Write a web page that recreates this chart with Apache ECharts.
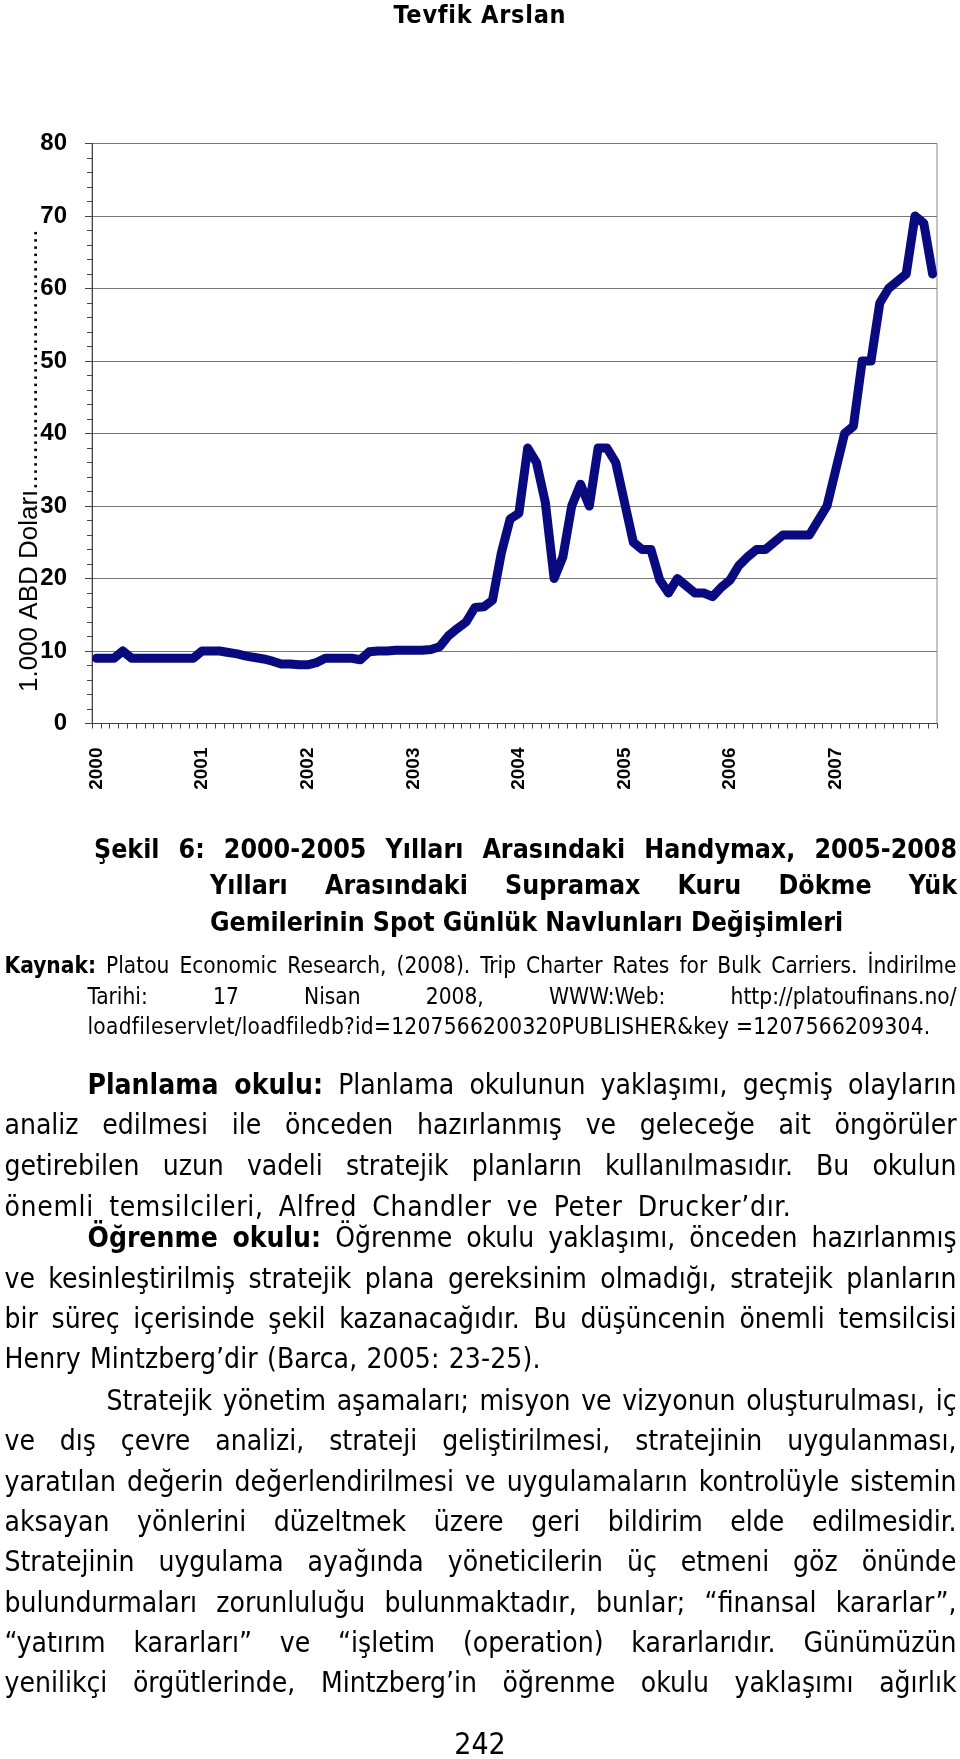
<!DOCTYPE html>
<html>
<head>
<meta charset="utf-8">
<script src="https://cdn.jsdelivr.net/npm/echarts@6/dist/echarts.min.js"></script>
<style>
html,body{margin:0;padding:0;background:#fff;width:960px;height:1759px;overflow:hidden}
#chart{position:absolute;left:0;top:0;width:960px;height:1759px}
.t{position:absolute;font-family:"DejaVu Sans Condensed","DejaVu Sans",sans-serif;color:#000;white-space:nowrap;z-index:2}
.t span{display:inline-block;white-space:nowrap}
</style>
</head>
<body>
<div id="chart"></div>
<div id="text"></div>
<script>
// ---- data ----
const years = ['2000', '2001', '2002', '2003', '2004', '2005', '2006', '2007'];
const monthCodes = ['01', '02', '03', '04', '05', '06', '07', '08', '09', '10', '11', '12'];
const categories = [];
years.forEach(function (y) { monthCodes.forEach(function (m) { categories.push(y + '-' + m); }); });
// spot daily charter rates, thousand USD (monthly)
const rates = [
  9, 9, 9, 10, 9, 9, 9, 9, 9, 9, 9, 9,                       // 2000
  10, 10, 10, 9.8, 9.6, 9.3, 9.1, 8.9, 8.6, 8.2, 8.2, 8.1,   // 2001
  8.1, 8.4, 9, 9, 9, 9, 8.8, 9.9, 10, 10, 10.1, 10.1,        // 2002
  10.1, 10.1, 10.2, 10.6, 12.1, 13.1, 14, 16, 16.1, 17, 23.5, 28.2, // 2003
  29, 38, 36, 30.5, 20, 23, 30, 33, 30, 38, 38, 36,          // 2004
  30.5, 25, 24, 24, 19.8, 18, 20, 19, 18, 18, 17.5, 18.8,    // 2005
  19.8, 21.8, 23, 24, 24, 25, 26, 26, 26, 26, 28, 30,        // 2006
  35, 40, 41, 50, 50, 58, 60, 61, 62, 70, 69, 62             // 2007
];
const yTicks = [0, 10, 20, 30, 40, 50, 60, 70, 80];
const yAxisName = '1.000 ABD Doları' + '....................................';

// ---- chart ----
const chart = echarts.init(document.getElementById('chart'), null, {renderer: 'canvas'});
chart.setOption({
  animation: false,
  grid: {left: 92, top: 143.5, width: 845, height: 580, show: true, borderColor: '#888', borderWidth: 1, backgroundColor: 'transparent'},
  xAxis: {
    type: 'category',
    data: categories,
    boundaryGap: true,
    axisLine: {show: true, lineStyle: {color: '#444', width: 1}},
    axisTick: {show: true, interval: 0, length: 5, lineStyle: {color: '#444'}},
    axisLabel: {
      interval: 11, rotate: 90, margin: 24,
      formatter: function (v) { return v.slice(0, 4); },
      fontFamily: '"Liberation Sans", Arial, sans-serif', fontWeight: 'bold', fontSize: 19, color: '#000'
    },
    splitLine: {show: false}
  },
  yAxis: {
    type: 'value',
    min: yTicks[0], max: yTicks[yTicks.length - 1], interval: 10,
    axisLine: {show: true, lineStyle: {color: '#444', width: 1}},
    axisTick: {show: true, length: 7, lineStyle: {color: '#444'}},
    minorTick: {show: true, splitNumber: 5, length: 5, lineStyle: {color: '#444'}},
    axisLabel: {margin: 25, fontFamily: '"Liberation Sans", Arial, sans-serif', fontWeight: 'bold', fontSize: 24, color: '#000'},
    splitLine: {show: true, lineStyle: {color: '#777', width: 1}}
  },
  graphic: [{
    type: 'text', x: 30, y: 692, rotation: Math.PI / 2, z: 10,
    style: {text: yAxisName, font: '26px "Liberation Sans", Arial, sans-serif', fill: '#000',
            align: 'left', verticalAlign: 'middle', textAlign: 'left', textVerticalAlign: 'middle'}
  }],
  series: [{
    type: 'line', data: rates, showSymbol: false, silent: true,
    lineStyle: {color: '#0a0a80', width: 9, cap: 'round', join: 'round'}
  }]
});

// ---- page text ----
// [html, left, targetWidth, centerY, fontSize, mode]  mode: j = justify, l = last line, c = centered
const lines = [
  ['<b>Tevfik Arslan</b>', 0, 172, 15, 25, 'c'],
  ['<b>Şekil 6: 2000-2005 Yılları Arasındaki Handymax, 2005-2008</b>', 94, 863, 849, 26.5, 'j'],
  ['<b>Yılları Arasındaki Supramax Kuru Dökme Yük</b>', 210, 747, 885, 26.5, 'j'],
  ['<b>Gemilerinin Spot Günlük Navlunları Değişimleri</b>', 210, 633, 922, 26.5, 'l'],
  ['<b>Kaynak:</b> Platou Economic Research, (2008). Trip Charter Rates for Bulk Carriers. İndirilme', 4.5, 952, 964.5, 22.5, 'j'],
  ['Tarihi: 17 Nisan 2008, WWW:Web: http://platoufinans.no/', 87.5, 869, 996, 22.5, 'j'],
  ['loadfileservlet/loadfiledb?id=1207566200320PUBLISHER&amp;key =1207566209304.', 87.5, 843, 1026, 22.5, 'l'],
  ['<b>Planlama okulu:</b> Planlama okulunun yaklaşımı, geçmiş olayların', 87.5, 869, 1084.5, 28, 'j'],
  ['analiz edilmesi ile önceden hazırlanmış ve geleceğe ait öngörüler', 4.5, 952, 1125, 28, 'j'],
  ['getirebilen uzun vadeli stratejik planların kullanılmasıdır. Bu okulun', 4.5, 952, 1166, 28, 'j'],
  ['önemli temsilcileri, Alfred Chandler ve Peter Drucker’dır.', 4.5, 787, 1207, 28, 'l'],
  ['<b>Öğrenme okulu:</b> Öğrenme okulu yaklaşımı, önceden hazırlanmış', 87.5, 869, 1238, 28, 'j'],
  ['ve kesinleştirilmiş stratejik plana gereksinim olmadığı, stratejik planların', 4.5, 952, 1278.5, 28, 'j'],
  ['bir süreç içerisinde şekil kazanacağıdır. Bu düşüncenin önemli temsilcisi', 4.5, 952, 1319, 28, 'j'],
  ['Henry Mintzberg’dir (Barca, 2005: 23-25).', 4.5, 536, 1359, 28, 'l'],
  ['Stratejik yönetim aşamaları; misyon ve vizyonun oluşturulması, iç', 106.5, 850, 1401, 28, 'j'],
  ['ve dış çevre analizi, strateji geliştirilmesi, stratejinin uygulanması,', 4.5, 952, 1441, 28, 'j'],
  ['yaratılan değerin değerlendirilmesi ve uygulamaların kontrolüyle sistemin', 4.5, 952, 1481.5, 28, 'j'],
  ['aksayan yönlerini düzeltmek üzere geri bildirim elde edilmesidir.', 4.5, 952, 1522, 28, 'j'],
  ['Stratejinin uygulama ayağında yöneticilerin üç etmeni göz önünde', 4.5, 952, 1562, 28, 'j'],
  ['bulundurmaları zorunluluğu bulunmaktadır, bunlar; “finansal kararlar”,', 4.5, 952, 1603, 28, 'j'],
  ['“yatırım kararları” ve “işletim (operation) kararlarıdır. Günümüzün', 4.5, 952, 1643, 28, 'j'],
  ['yenilikçi örgütlerinde, Mintzberg’in öğrenme okulu yaklaşımı ağırlık', 4.5, 952, 1683, 28, 'j'],
  ['242', 0, 0, 1744, 30, 'c']
];
const holder = document.getElementById('text');
lines.forEach(function (l) {
  const d = document.createElement('div');
  const lh = 40;
  d.className = 't';
  d.style.top = (l[3] - lh / 2) + 'px';
  d.style.height = lh + 'px';
  d.style.lineHeight = lh + 'px';
  d.style.fontSize = l[4] + 'px';
  if (l[5] === 'c') {
    d.style.left = '0px'; d.style.width = '960px'; d.style.textAlign = 'center';
  } else {
    d.style.left = l[1] + 'px';
  }
  const s = document.createElement('span');
  s.innerHTML = l[0];
  d.appendChild(s);
  holder.appendChild(d);
  const target = l[2];
  if (!target) return;
  const txt = s.textContent;
  const w = s.getBoundingClientRect().width;
  const nSpaces = (txt.match(/ /g) || []).length;
  const nChars = txt.length;
  if (l[5] === 'j' && w <= target && nSpaces > 0) {
    s.style.wordSpacing = ((target - w) / nSpaces) + 'px';
  } else if (l[5] === 'l' && w < target && nSpaces >= 4) {
    // share the extra width between word gaps and letters
    s.style.wordSpacing = (0.5 * (target - w) / nSpaces) + 'px';
    s.style.letterSpacing = (0.5 * (target - w) / nChars) + 'px';
  } else {
    s.style.letterSpacing = ((target - w) / nChars) + 'px';
  }
});
</script>
</body>
</html>
